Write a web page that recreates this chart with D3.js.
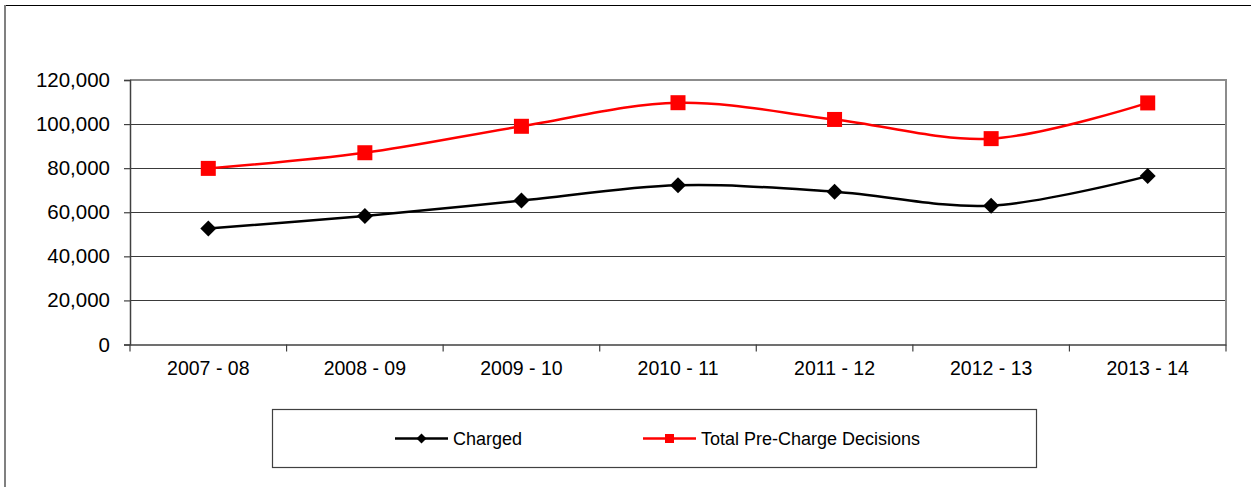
<!DOCTYPE html>
<html>
<head>
<meta charset="utf-8">
<script src="https://cdn.jsdelivr.net/npm/d3@7"></script>
<style>
  html, body { margin: 0; padding: 0; background: #fff; }
  svg { display: block; font-family: "Liberation Sans", Arial, sans-serif; }
</style>
</head>
<body>
<svg id="chart" width="1251" height="487"></svg>
<script>
const categories = ["2007 - 08", "2008 - 09", "2009 - 10", "2010 - 11", "2011 - 12", "2012 - 13", "2013 - 14"];
const charged = [52600, 58300, 65300, 72200, 69300, 63000, 76400];
const totalDecisions = [79900, 87000, 99000, 109700, 102100, 93400, 109600];
const seriesNames = ["Charged", "Total Pre-Charge Decisions"];
const yTicks = [0, 20000, 40000, 60000, 80000, 100000, 120000];

(function () {
const svg = d3.select("#chart");
const pLeft = 130, pRight = 1226, pTop = 80, pBottom = 344.5;

// outer chart border
svg.append("line").attr("x1", 5).attr("x2", 1251).attr("y1", 5.5).attr("y2", 5.5)
  .attr("stroke", "#000").attr("stroke-width", 1.2);
svg.append("line").attr("x1", 5).attr("x2", 5).attr("y1", 5).attr("y2", 487)
  .attr("stroke", "#808080").attr("stroke-width", 2);

const x = d3.scaleBand().domain(categories).range([pLeft, pRight]);
const y = d3.scaleLinear().domain([0, 120000]).range([pBottom, pTop]);

// gridlines
svg.append("g").selectAll("line").data(yTicks.filter(d => d > 0 && d < 120000)).join("line")
  .attr("x1", pLeft).attr("x2", pRight)
  .attr("y1", d => Math.round(y(d)) + 0.5).attr("y2", d => Math.round(y(d)) + 0.5)
  .attr("stroke", "#3a3a3a").attr("stroke-width", 1);

// plot area top/right border
svg.append("path")
  .attr("d", `M${pLeft},${y(120000)}H${pRight}V${pBottom}`)
  .attr("fill", "none").attr("stroke", "#8c8c8c").attr("stroke-width", 2);

// y axis
const yAxis = d3.axisLeft(y).tickValues(yTicks).tickSize(6).tickPadding(14)
  .tickFormat(d3.format(","));
const gy = svg.append("g").attr("transform", `translate(${pLeft},0)`).call(yAxis);
gy.select(".domain").attr("stroke", "#404040").attr("stroke-width", 1.5);
gy.selectAll(".tick line").attr("stroke", "#404040").attr("stroke-width", 1.2);
gy.selectAll("text").attr("font-size", 20.5).attr("fill", "#000")
  .style("font-family", '"Liberation Sans", Arial, sans-serif');

// x axis
const gx = svg.append("g").attr("transform", `translate(0,${pBottom})`)
  .call(d3.axisBottom(x).tickSize(0).tickPadding(17));
gx.select(".domain").attr("stroke", "#404040").attr("stroke-width", 1.5);
gx.selectAll("text").attr("font-size", 19.5).attr("fill", "#000")
  .style("font-family", '"Liberation Sans", Arial, sans-serif');
// x boundary ticks
const bounds = categories.map(c => x(c)).concat([pRight]);
svg.append("g").selectAll("line").data(bounds).join("line")
  .attr("x1", d => d).attr("x2", d => d).attr("y1", pBottom).attr("y2", pBottom + 7)
  .attr("stroke", "#404040").attr("stroke-width", 1.2);

const cx = c => x(c) + x.bandwidth() / 2;
const line = d3.line().x((d, i) => cx(categories[i])).y(d => y(d)).curve(d3.curveCardinal.tension(0));

// lines
svg.append("path").datum(charged).attr("d", line)
  .attr("fill", "none").attr("stroke", "#000").attr("stroke-width", 2.5);
svg.append("path").datum(totalDecisions).attr("d", line)
  .attr("fill", "none").attr("stroke", "#ff0000").attr("stroke-width", 2.5);

// markers
svg.append("g").selectAll("path").data(charged).join("path")
  .attr("transform", (d, i) => `translate(${cx(categories[i])},${y(d)})`)
  .attr("d", "M0,-8L8,0L0,8L-8,0Z").attr("fill", "#000");
svg.append("g").selectAll("rect").data(totalDecisions).join("rect")
  .attr("x", (d, i) => cx(categories[i]) - 7.5).attr("y", d => y(d) - 7.5)
  .attr("width", 15).attr("height", 15).attr("fill", "#ff0000");

// legend
const lg = svg.append("g");
lg.append("rect").attr("x", 272.5).attr("y", 409.5).attr("width", 764).attr("height", 58)
  .attr("fill", "#fff").attr("stroke", "#404040").attr("stroke-width", 1.2);
const legendItems = [
  { name: seriesNames[0], x0: 395, color: "#000", marker: "diamond" },
  { name: seriesNames[1], x0: 643, color: "#ff0000", marker: "square" }
];
legendItems.forEach(it => {
  const ly = 438.5;
  lg.append("line").attr("x1", it.x0).attr("x2", it.x0 + 53).attr("y1", ly).attr("y2", ly)
    .attr("stroke", it.color).attr("stroke-width", 2.5);
  const mx = it.x0 + 26.5;
  if (it.marker === "diamond") {
    lg.append("path").attr("transform", `translate(${mx},${ly})`).attr("d", "M0,-5L5,0L0,5L-5,0Z").attr("fill", it.color);
  } else {
    lg.append("rect").attr("x", mx - 4.5).attr("y", ly - 4.5).attr("width", 9).attr("height", 9).attr("fill", it.color);
  }
  lg.append("text").attr("x", it.x0 + 58).attr("y", ly).attr("dy", "0.35em")
    .attr("font-size", 18).attr("fill", "#000").text(it.name);
});
})();
</script>
</body>
</html>
